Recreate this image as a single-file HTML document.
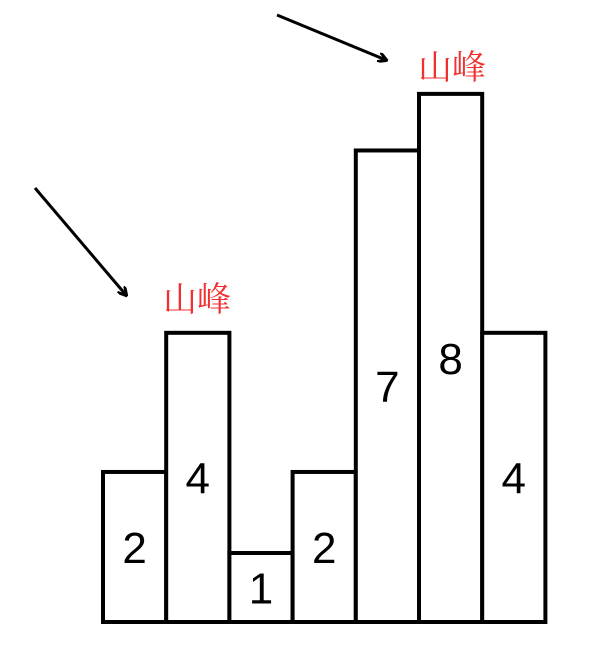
<!DOCTYPE html>
<html><head><meta charset="utf-8">
<style>
html,body{margin:0;padding:0;background:#fff;}
svg{display:block;}
</style></head>
<body>
<svg id="chart" width="611" height="658" viewBox="0 0 611 658" xmlns="http://www.w3.org/2000/svg">
<defs>
<marker id="ah" markerWidth="10" markerHeight="10" refX="8" refY="5" orient="auto" markerUnits="userSpaceOnUse">
<path d="M0,0 L9,5 L0,10" fill="none" stroke="#000" stroke-width="3"/>
</marker>
</defs>
<g id="bars"></g>
<line x1="35" y1="188" x2="126" y2="295" stroke="#000" stroke-width="3" marker-end="url(#ah)"/>
<line x1="277" y1="15" x2="386" y2="60" stroke="#000" stroke-width="3" marker-end="url(#ah)"/>
<text x="197" y="311" text-anchor="middle" fill="#f03030" font-size="34" font-family="'Noto Serif CJK SC',serif">山峰</text>
<text x="452" y="79" text-anchor="middle" fill="#f03030" font-size="34" font-family="'Noto Serif CJK SC',serif">山峰</text>
</svg>
<script>
const categories = ["b1","b2","b3","b4","b5","b6","b7"];
const values = [2,4,1,2,7,8,4];
const labels = ["2","4","1","2","7","8","4"];
const baseY = 622, x0 = 103, barW = 63.2;
function yH(v){ return 113*Math.pow(v,0.78) - 44; }
function xPos(i){ return x0 + i*barW; }
const g = document.getElementById('bars');
const ns = "http://www.w3.org/2000/svg";
values.forEach((v,i)=>{
  const h = yH(v);
  const r = document.createElementNS(ns,'rect');
  
  
  r.setAttribute('x', xPos(i)); r.setAttribute('y', baseY - h);
  r.setAttribute('width', barW); r.setAttribute('height', h);
  r.setAttribute('fill', '#fff'); r.setAttribute('stroke', '#000'); r.setAttribute('stroke-width', '4');
  g.appendChild(r);
});
values.forEach((v,i)=>{
  const h = yH(v);
  const t = document.createElementNS(ns,'text');
  
  
  t.setAttribute('x', xPos(i) + barW/2); t.setAttribute('y', baseY - h/2 + 16);
  t.setAttribute('text-anchor', 'middle'); t.setAttribute('font-size', '44');
  t.setAttribute('font-family', "'Liberation Sans',Arial,sans-serif");
  t.textContent = labels[i];
  g.appendChild(t);
});
</script>
</body></html>
